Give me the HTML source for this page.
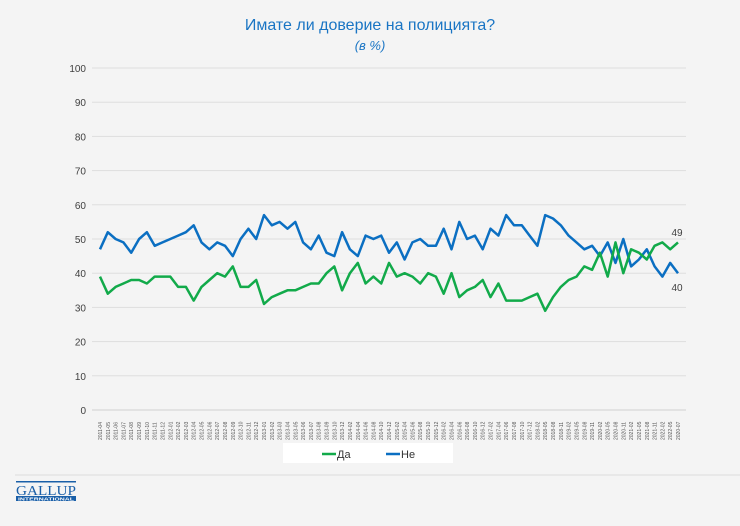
<!DOCTYPE html>
<html><head><meta charset="utf-8"><style>
body{margin:0;background:#f4f4f4;width:740px;height:521px;overflow:hidden;font-family:"Liberation Sans",sans-serif}
</style></head><body>
<svg id="s" width="740" height="521" xmlns="http://www.w3.org/2000/svg">
<rect width="740" height="521" fill="#f4f4f4"/>
<text x="370" y="30" text-anchor="middle" font-size="16" fill="#1a75c4" font-family="Liberation Sans, sans-serif">Имате ли доверие на полицията?</text>
<text x="370" y="50" text-anchor="middle" font-size="13" font-style="italic" fill="#1a75c4" font-family="Liberation Sans, sans-serif">(в %)</text>
<g id="grid"></g>
<g id="xl"></g>
<polyline id="b" fill="none" stroke="#0b6fc2" stroke-width="2.5" stroke-linejoin="round"/>
<polyline id="g" fill="none" stroke="#12aa4a" stroke-width="2.5" stroke-linejoin="round"/>
<text x="677" y="236" text-anchor="middle" font-size="10" fill="#404040">49</text>
<text x="677" y="291" text-anchor="middle" font-size="10" fill="#404040">40</text>
<rect x="283" y="443" width="170" height="20" fill="#fff"/>
<line x1="322" y1="454" x2="336" y2="454" stroke="#12aa4a" stroke-width="2.5"/>
<text x="337" y="458" font-size="11" fill="#333">Да</text>
<line x1="386" y1="454" x2="400" y2="454" stroke="#0b6fc2" stroke-width="2.5"/>
<text x="401" y="458" font-size="11" fill="#333">Не</text>
<line x1="15" y1="475" x2="740" y2="475" stroke="#dcdcdc" stroke-width="1"/>
<rect x="16" y="481" width="60" height="1.5" fill="#1a5fa8"/>
<text x="16" y="495" font-size="14" font-family="Liberation Serif, serif" fill="#1a5fa8" textLength="60" lengthAdjust="spacingAndGlyphs">GALLUP</text>
<rect x="16" y="496" width="60" height="5" fill="#1a5fa8"/>
<text x="46" y="500.3" text-anchor="middle" font-size="4.5" fill="#fff" font-weight="bold" textLength="56" lengthAdjust="spacingAndGlyphs">INTERNATIONAL</text>
</svg>
<script>
var B=[47,52,50,49,46,50,52,48,49,50,51,52,54,49,47,49,48,45,50,53,50,57,54,55,53,55,49,47,51,46,45,52,47,45,51,50,51,46,49,44,49,50,48,48,53,47,55,50,51,47,53,51,57,54,54,51,48,57,56,54,51,49,47,48,45,49,43,50,42,44,47,42,39,43,40];
var G=[39,34,36,37,38,38,37,39,39,39,36,36,32,36,38,40,39,42,36,36,38,31,33,34,35,35,36,37,37,40,42,35,40,43,37,39,37,43,39,40,39,37,40,39,34,40,33,35,36,38,33,37,32,32,32,33,34,29,33,36,38,39,42,41,46,39,49,40,47,46,44,48,49,47,49];
var ns="http://www.w3.org/2000/svg",x0=100,dx=(678-100)/74,Y=function(v){return 410-v*3.42};
var gr=document.getElementById('grid'),xl=document.getElementById('xl');
for(var v=0;v<=100;v+=10){var l=document.createElementNS(ns,'line');l.setAttribute('x1',92);l.setAttribute('x2',686);l.setAttribute('y1',Y(v));l.setAttribute('y2',Y(v));l.setAttribute('stroke',v?'#dedede':'#cfcfcf');gr.appendChild(l);
var t=document.createElementNS(ns,'text');t.setAttribute('x',86);t.setAttribute('y',Y(v)+4);t.setAttribute('text-anchor','end');t.setAttribute('font-size','10');t.setAttribute('fill','#404040');t.textContent=v;gr.appendChild(t);}
var yr=2011,m=4;
for(var i=0;i<75;i++){var x=x0+i*dx;var t=document.createElementNS(ns,'text');
var lab=yr+'-'+(m<10?'0':'')+m;m+=(i<30?1:2);if(i>55)m+=1;while(m>12){m-=12;yr++;}
if(i==74)lab='2020-07';
t.setAttribute('transform','translate('+(x+2)+',440) rotate(-90)');t.setAttribute('font-size','5');t.setAttribute('fill','#555');t.textContent=lab;xl.appendChild(t);}
function pts(a){return a.map(function(v,i){return (x0+i*dx).toFixed(1)+','+Y(v).toFixed(1)}).join(' ')}
document.getElementById('b').setAttribute('points',pts(B));
document.getElementById('g').setAttribute('points',pts(G));
</script>
</body></html>
